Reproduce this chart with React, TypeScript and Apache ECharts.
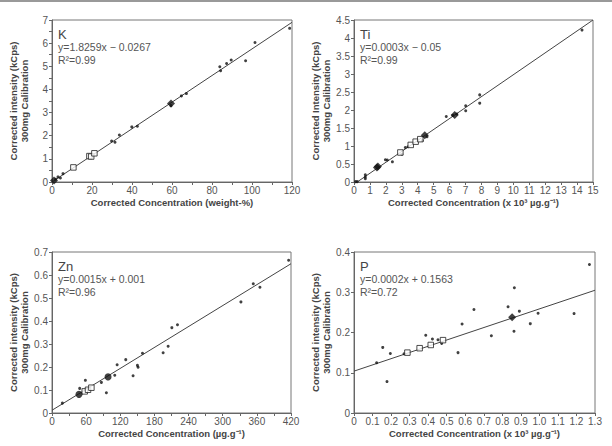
import React, { useEffect, useRef } from "react";
import * as echarts from "echarts";

type P = [number, number];

// ---- K panel ----
const K_DOTS: P[] = [[1.8, 0.12], [3.0, 0.22], [4.2, 0.17], [5.5, 0.36], [29.8, 1.77], [31.5, 1.72], [33.7, 2.03], [39.9, 2.38], [42.7, 2.41], [59.5, 3.30], [64.7, 3.72], [67.2, 3.82], [83.9, 4.98], [84.3, 4.81], [87.3, 5.12], [89.6, 5.27], [96.8, 5.24], [101.5, 6.03], [118.8, 6.64]];
const K_SQUARES: P[] = [[10.7, 0.63], [18.7, 1.12], [19.6, 1.10], [21.2, 1.24]];
const K_BIG: P[] = [[1.0, 0.07], [59.5, 3.39]];
const K_LINE: P[] = [[0, 0], [120, 6.9]];

// ---- Ti panel ----
const TI_DOTS: P[] = [[0.1, 0.01], [0.2, 0.01], [0.71, 0.2], [0.71, 0.14], [0.71, 0.09], [1.97, 0.62], [2.09, 0.61], [2.41, 0.56], [3.0, 0.77], [3.22, 0.96], [3.39, 0.98], [4.29, 1.15], [4.58, 1.26], [5.79, 1.82], [6.2, 1.85], [6.45, 1.89], [7.01, 2.12], [7.01, 1.98], [7.89, 2.42], [7.89, 2.19], [14.31, 4.22]];
const TI_SQUARES: P[] = [[2.91, 0.82], [3.56, 1.03], [3.87, 1.12], [4.16, 1.19]];
const TI_BIG: P[] = [[1.44, 0.4], [1.5, 0.43], [4.44, 1.3], [6.32, 1.86]];
const TI_LINE: P[] = [[0.2, 0], [15, 4.5]];

// ---- Zn panel ----
const ZN_DOTS: P[] = [[18.2, 0.043], [48.7, 0.107], [58.7, 0.142], [86.8, 0.133], [95.6, 0.088], [110.3, 0.164], [114.4, 0.21], [129.6, 0.232], [142.5, 0.162], [150.1, 0.207], [151.3, 0.199], [159, 0.26], [195.3, 0.262], [204.1, 0.29], [210.6, 0.371], [220.5, 0.384], [332, 0.483], [353.7, 0.562], [365.4, 0.547], [415.8, 0.664]];
const ZN_SQUARES: P[] = [[57.5, 0.094], [63.3, 0.101], [69.2, 0.11]];
const ZN_BIG: P[] = [[47.5, 0.081], [98.5, 0.157]];
const ZN_LINE: P[] = [[0, 0.012], [420, 0.649]];

// ---- P panel ----
const P_DOTS: P[] = [[0.122, 0.125], [0.155, 0.163], [0.178, 0.078], [0.196, 0.148], [0.27, 0.147], [0.387, 0.193], [0.423, 0.184], [0.453, 0.182], [0.473, 0.173], [0.561, 0.15], [0.583, 0.221], [0.647, 0.257], [0.741, 0.192], [0.831, 0.264], [0.863, 0.203], [0.865, 0.311], [0.892, 0.253], [0.951, 0.222], [0.993, 0.248], [1.187, 0.247], [1.27, 0.369]];
const P_SQUARES: P[] = [[0.288, 0.15], [0.354, 0.161], [0.414, 0.169], [0.48, 0.181]];
const P_BIG: P[] = [[0.853, 0.238]];
const P_LINE: P[] = [[0, 0.104], [1.3, 0.305]];

const TITLES = ["K", "Ti", "Zn", "P"];
const EQUATIONS = ["y=1.8259x − 0.0267", "y=0.0003x − 0.05", "y=0.0015x + 0.001", "y=0.0002x + 0.1563"];
const R2 = ["R²=0.99", "R²=0.99", "R²=0.96", "R²=0.72"];
const X_NAMES = [
  "Corrected Concentration (weight-%)",
  "Corrected Concentration (x 10³ µg.g⁻¹)",
  "Corrected Concentration (µg.g⁻¹)",
  "Corrected Concentration (x 10³ µg.g⁻¹)",
];
const Y_NAMES = [
  "Corrected intensity (kCps)\n300mg Calibration",
  "Corrected Intensity (kCps)\n300mg Calibration",
  "Corrected intensity (kCps)\n300mg Calibration",
  "Corrected intensity (kCps)\n300mg Calibration",
];

const FONT = "Liberation Sans, Arial, sans-serif";

export default function App() {
  const ref = useRef<HTMLDivElement>(null);
  useEffect(() => {
    document.body.style.margin = "0";
    if (!ref.current) return;
    const chart = echarts.init(ref.current, undefined, { renderer: "svg" });

    const grids = [
      { left: 52, top: 20, width: 240, height: 162 },
      { left: 354, top: 20, width: 239, height: 162 },
      { left: 52, top: 252, width: 239, height: 161 },
      { left: 354, top: 252, width: 241, height: 161 },
    ];
    const xCfg = [
      { min: 0, max: 120, interval: 20, minor: true, fmt: null },
      { min: 0, max: 15, interval: 1, minor: false, fmt: null },
      { min: 0, max: 420, interval: 60, minor: true, fmt: null },
      { min: 0, max: 1.3, interval: 0.1, minor: false, fmt: (v: number) => (v === 0 ? "0" : v.toFixed(1)) },
    ];
    const yCfg = [
      { min: 0, max: 7, interval: 1, minor: true, fmt: null },
      { min: 0, max: 4.5, interval: 0.5, minor: false, fmt: null },
      { min: 0, max: 0.7, interval: 0.1, minor: false, fmt: (v: number) => (v === 0 ? "0" : v.toFixed(1)) },
      { min: 0, max: 0.4, interval: 0.1, minor: false, fmt: (v: number) => (v === 0 ? "0" : v.toFixed(1)) },
    ];
    const sets = [
      [K_DOTS, K_SQUARES, K_BIG, K_LINE, "diamond"],
      [TI_DOTS, TI_SQUARES, TI_BIG, TI_LINE, "diamond"],
      [ZN_DOTS, ZN_SQUARES, ZN_BIG, ZN_LINE, "circle"],
      [P_DOTS, P_SQUARES, P_BIG, P_LINE, "diamond"],
    ] as any[];

    const axisCommon = (c: any, isX: boolean, i: number) => ({
      type: "value",
      gridIndex: i,
      min: c.min,
      max: c.max,
      interval: c.interval,
      splitLine: { show: false },
      axisLine: { show: true, lineStyle: { color: "#666", width: 1 } },
      axisTick: { show: true, inside: false, length: 3, lineStyle: { color: "#666" } },
      minorTick: { show: c.minor, splitNumber: 2, length: 3, lineStyle: { color: "#666" } },
      axisLabel: {
        color: "#555",
        fontSize: 10,
        fontFamily: FONT,
        margin: isX ? 3 : 4,
        formatter: c.fmt || undefined,
      },
      name: isX ? X_NAMES[i] : Y_NAMES[i],
      nameLocation: "middle",
      nameGap: isX ? 15 : 22,
      nameTextStyle: {
        color: "#444",
        fontSize: 9.5,
        fontWeight: "bold",
        fontFamily: FONT,
        lineHeight: 11,
      },
    });

    const series: any[] = [];
    sets.forEach((s, i) => {
      const [dots, squares, big, line, bigSym] = s;
      series.push({
        type: "line", xAxisIndex: i, yAxisIndex: i, data: line, symbol: "none",
        lineStyle: { color: "#444", width: 1 }, z: 1, silent: true,
      });
      series.push({
        type: "scatter", xAxisIndex: i, yAxisIndex: i, data: dots, symbol: "circle", symbolSize: 3,
        itemStyle: { color: "#111" }, z: 2,
      });
      series.push({
        type: "scatter", xAxisIndex: i, yAxisIndex: i, data: squares, symbol: "rect", symbolSize: 5.5,
        itemStyle: { color: "#fff", borderColor: "#222", borderWidth: 1 }, z: 3,
      });
      series.push({
        type: "scatter", xAxisIndex: i, yAxisIndex: i, data: big, symbol: bigSym, symbolSize: bigSym === "circle" ? 7 : 8,
        itemStyle: { color: "#111" }, z: 4,
      });
    });

    const graphic: any[] = [
      { type: "rect", shape: { x: 0, y: 0, width: 612, height: 2 }, style: { fill: "#999" } },
    ];
    grids.forEach((g, i) => {
      const x = g.left + 6;
      graphic.push({ type: "text", x, y: g.top + 14, style: { text: TITLES[i], fill: "#444", font: `13px ${FONT}`, verticalAlign: "middle" } });
      graphic.push({ type: "text", x, y: g.top + 27, style: { text: EQUATIONS[i], fill: "#555", font: `10.5px ${FONT}`, verticalAlign: "middle" } });
      graphic.push({ type: "text", x, y: g.top + 39.5, style: { text: R2[i], fill: "#555", font: `10.5px ${FONT}`, verticalAlign: "middle" } });
    });

    chart.setOption({
      animation: false,
      backgroundColor: "#fff",
      grid: grids.map((g) => ({ ...g, show: true, borderColor: "#777", borderWidth: 1, backgroundColor: "transparent" })),
      xAxis: xCfg.map((c, i) => axisCommon(c, true, i)),
      yAxis: yCfg.map((c, i) => axisCommon(c, false, i)),
      series,
      graphic,
    });
    return () => chart.dispose();
  }, []);
  return <div ref={ref} style={{ width: 612, height: 446 }} />;
}
